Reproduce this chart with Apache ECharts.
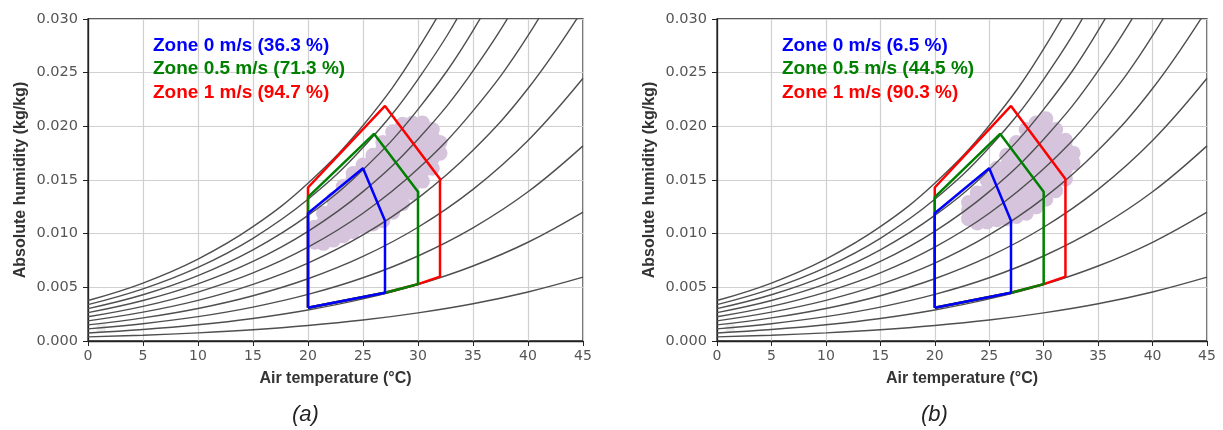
<!DOCTYPE html>
<html>
<head>
<meta charset="utf-8">
<script src="https://cdn.jsdelivr.net/npm/echarts@6/dist/echarts.min.js"></script>
<style>
  html, body { margin: 0; padding: 0; background: #fff; }
  #main { width: 1223px; height: 430px; }
</style>
</head>
<body>
<div id="main"></div>
<script>
// air temperature (°C) at which the RH curves are sampled
const temps = [0, 5, 10, 15, 20, 25, 30, 35, 40, 45]
// absolute humidity (kg/kg) along each relative humidity line
const rh10 = [0.00038, 0.00054, 0.00076, 0.00105, 0.00144, 0.00195, 0.00262, 0.00347, 0.00457, 0.00595]
const rh20 = [0.00075, 0.00107, 0.00151, 0.00210, 0.00289, 0.00392, 0.00526, 0.00699, 0.00920, 0.01201]
const rh30 = [0.00113, 0.00161, 0.00227, 0.00316, 0.00434, 0.00589, 0.00792, 0.01054, 0.01390, 0.01818]
const rh40 = [0.00150, 0.00215, 0.00303, 0.00422, 0.00580, 0.00788, 0.01060, 0.01413, 0.01868, 0.02448]
const rh50 = [0.00188, 0.00269, 0.00379, 0.00528, 0.00726, 0.00988, 0.01331, 0.01777, 0.02352, 0.03091]
const rh60 = [0.00226, 0.00323, 0.00456, 0.00634, 0.00874, 0.01190, 0.01604, 0.02144, 0.02844, 0.03746]
const rh70 = [0.00264, 0.00377, 0.00532, 0.00741, 0.01022, 0.01392, 0.01880, 0.02516, 0.03344, 0.04415]
const rh80 = [0.00302, 0.00431, 0.00609, 0.00849, 0.01170, 0.01596, 0.02158, 0.02892, 0.03851, 0.05097]
const rh90 = [0.00339, 0.00486, 0.00686, 0.00957, 0.01320, 0.01802, 0.02438, 0.03273, 0.04366, 0.05794]
const rh100 = [0.00377, 0.00540, 0.00763, 0.01065, 0.01470, 0.02008, 0.02721, 0.03658, 0.04889, 0.06505]
const rhCurves = [rh10, rh20, rh30, rh40, rh50, rh60, rh70, rh80, rh90, rh100]

// comfort zones [temp, humidity]
const zone0 = [[20, 0.0031], [27, 0.0045], [27, 0.0112], [25, 0.0161], [20, 0.0119], [20, 0.0031]]
const zone05 = [[20, 0.0031], [27, 0.0045], [30, 0.0053], [30, 0.0139], [26, 0.0193], [20, 0.0134], [20, 0.0031]]
const zone1 = [[20, 0.0031], [27, 0.0045], [30, 0.0053], [32, 0.0060], [32, 0.0151], [27, 0.0219], [20, 0.0143], [20, 0.0031]]

const zoneNamesA = ['Zone 0 m/s (36.3 %)', 'Zone 0.5 m/s (71.3 %)', 'Zone 1 m/s (94.7 %)']
const zoneNamesB = ['Zone 0 m/s (6.5 %)', 'Zone 0.5 m/s (44.5 %)', 'Zone 1 m/s (90.3 %)']
const captions = ['(a)', '(b)']

// measured indoor conditions, case (a)
const cloudA = [
    [20.6, 0.0092], [20.6, 0.0100], [20.6, 0.0106],
    [21.4, 0.0091], [21.4, 0.0100], [21.4, 0.0110], [21.4, 0.0119],
    [22.3, 0.0094], [22.3, 0.0103], [22.3, 0.0113], [22.3, 0.0123], [22.3, 0.0132],
    [23.2, 0.0098], [23.2, 0.0106], [23.2, 0.0116], [23.2, 0.0126], [23.2, 0.0136], [23.2, 0.0144],
    [24.1, 0.0102], [24.1, 0.0111], [24.1, 0.0121], [24.1, 0.0131], [24.1, 0.0141], [24.1, 0.0151], [24.1, 0.0156],
    [25.0, 0.0106], [25.0, 0.0116], [25.0, 0.0126], [25.0, 0.0136], [25.0, 0.0146], [25.0, 0.0156], [25.0, 0.0164],
    [25.9, 0.0109], [25.9, 0.0117], [25.9, 0.0127], [25.9, 0.0137], [25.9, 0.0147], [25.9, 0.0157], [25.9, 0.0167], [25.9, 0.0173],
    [26.8, 0.0112], [26.8, 0.0121], [26.8, 0.0131], [26.8, 0.0141], [26.8, 0.0151], [26.8, 0.0161], [26.8, 0.0171], [26.8, 0.0179], [26.8, 0.0185],
    [27.7, 0.0120], [27.7, 0.0129], [27.7, 0.0139], [27.7, 0.0149], [27.7, 0.0159], [27.7, 0.0169], [27.7, 0.0179], [27.7, 0.0188], [27.7, 0.0195],
    [28.6, 0.0128], [28.6, 0.0137], [28.6, 0.0147], [28.6, 0.0157], [28.6, 0.0167], [28.6, 0.0177], [28.6, 0.0187], [28.6, 0.0196], [28.6, 0.0202],
    [29.5, 0.0138], [29.5, 0.0147], [29.5, 0.0157], [29.5, 0.0167], [29.5, 0.0177], [29.5, 0.0187], [29.5, 0.0197], [29.5, 0.0203],
    [30.4, 0.0149], [30.4, 0.0158], [30.4, 0.0168], [30.4, 0.0178], [30.4, 0.0188], [30.4, 0.0198], [30.4, 0.0203],
    [31.3, 0.0161], [31.3, 0.0170], [31.3, 0.0180], [31.3, 0.0190], [31.3, 0.0197],
    [32.0, 0.0175], [32.0, 0.0185]
]

// measured indoor conditions, case (b)
const cloudB = [
    [23.1, 0.0114], [23.1, 0.0122], [23.1, 0.0129],
    [23.9, 0.0110], [23.9, 0.0118], [23.9, 0.0128], [23.9, 0.0138],
    [24.8, 0.0111], [24.8, 0.0120], [24.8, 0.0130], [24.8, 0.0140], [24.8, 0.0150],
    [25.7, 0.0113], [25.7, 0.0122], [25.7, 0.0132], [25.7, 0.0142], [25.7, 0.0152], [25.7, 0.0161],
    [26.6, 0.0114], [26.6, 0.0123], [26.6, 0.0133], [26.6, 0.0143], [26.6, 0.0153], [26.6, 0.0163], [26.6, 0.0173],
    [27.5, 0.0116], [27.5, 0.0125], [27.5, 0.0135], [27.5, 0.0145], [27.5, 0.0155], [27.5, 0.0165], [27.5, 0.0175], [27.5, 0.0185],
    [28.4, 0.0119], [28.4, 0.0128], [28.4, 0.0138], [28.4, 0.0148], [28.4, 0.0158], [28.4, 0.0168], [28.4, 0.0178], [28.4, 0.0188], [28.4, 0.0197],
    [29.3, 0.0125], [29.3, 0.0134], [29.3, 0.0144], [29.3, 0.0154], [29.3, 0.0164], [29.3, 0.0174], [29.3, 0.0184], [29.3, 0.0194], [29.3, 0.0203],
    [30.2, 0.0132], [30.2, 0.0141], [30.2, 0.0151], [30.2, 0.0161], [30.2, 0.0171], [30.2, 0.0181], [30.2, 0.0191], [30.2, 0.0200], [30.2, 0.0207],
    [31.1, 0.0140], [31.1, 0.0149], [31.1, 0.0159], [31.1, 0.0169], [31.1, 0.0179], [31.1, 0.0189], [31.1, 0.0197],
    [32.0, 0.0151], [32.0, 0.0160], [32.0, 0.0170], [32.0, 0.0180], [32.0, 0.0187],
    [32.7, 0.0166], [32.7, 0.0175]
]

// small grey box left in the corner of both plots
const cornerBox = [[1.2, 0.0012]]

const zoneColors = ['#0000ff', '#008000', '#ff0000']
const labelFont = 'Liberation Sans, Arial, sans-serif'
const tickFont = 'DejaVu Sans, sans-serif'

let chart = echarts.init(document.getElementById('main'))

function makeAxes(i) {
    let x = {
        type: 'value', gridIndex: i, min: 0, max: 45, interval: 5,
        name: 'Air temperature (°C)', nameLocation: 'middle', nameGap: 30,
        nameTextStyle: {fontFamily: labelFont, fontWeight: 'bold', fontSize: 16, color: '#333'},
        axisLine: {show: true, onZero: false, lineStyle: {color: '#222', width: 1.3}},
        axisTick: {show: true, length: 5, lineStyle: {color: '#222'}},
        axisLabel: {fontFamily: tickFont, fontSize: 14, color: '#555', margin: 8, showMinLabel: true, showMaxLabel: true},
        splitLine: {show: true, lineStyle: {color: '#d0d0d0', width: 1.2}}
    }
    let y = {
        type: 'value', gridIndex: i, min: 0, max: 0.03, interval: 0.005,
        name: 'Absolute humidity (kg/kg)', nameLocation: 'middle', nameGap: 59,
        nameTextStyle: {fontFamily: labelFont, fontWeight: 'bold', fontSize: 16, color: '#333'},
        axisLine: {show: true, onZero: false, lineStyle: {color: '#222', width: 1.3}},
        axisTick: {show: true, length: 5, lineStyle: {color: '#222'}},
        axisLabel: {fontFamily: tickFont, fontSize: 14.5, color: '#555', margin: 10,
            formatter: v => v.toFixed(3)},
        splitLine: {show: true, lineStyle: {color: '#d0d0d0', width: 1.2}}
    }
    return [x, y]
}

function makeSeries(i, cloud, names) {
    let list = []
    list.push({
        type: 'scatter', xAxisIndex: i, yAxisIndex: i, z: 1,
        symbolSize: 15, itemStyle: {color: '#d6c4dd', opacity: 1},
        silent: true, data: cloud
    })
    list.push({
        type: 'scatter', xAxisIndex: i, yAxisIndex: i, z: 1,
        symbol: 'rect', symbolSize: 9, itemStyle: {color: '#eeeeee', opacity: 1},
        silent: true, data: cornerBox
    })
    rhCurves.forEach(curve => {
        list.push({
            type: 'line', xAxisIndex: i, yAxisIndex: i, z: 2,
            showSymbol: false, smooth: 0.4, clip: true,
            lineStyle: {color: '#4f4f4f', width: 1.4},
            silent: true,
            data: temps.map((t, k) => [t, curve[k]])
        })
    })
    let zones = [zone1, zone05, zone0]
    let zoneNames = [names[2], names[1], names[0]]
    let colors = [zoneColors[2], zoneColors[1], zoneColors[0]]
    zones.forEach((zone, k) => {
        list.push({
            type: 'line', name: zoneNames[k], xAxisIndex: i, yAxisIndex: i, z: 3 + k,
            showSymbol: false, smooth: false,
            lineStyle: {color: colors[k], width: 2.5},
            itemStyle: {color: colors[k]},
            data: zone
        })
    })
    return list
}

function makeLegend(left, names) {
    return {
        orient: 'vertical', left: left, top: 36, padding: 0,
        icon: 'none', itemWidth: 0, itemHeight: 17, itemGap: 4.5,
        selectedMode: false,
        textStyle: {fontFamily: labelFont, fontWeight: 'bold', fontSize: 19},
        data: names.map((n, k) => ({name: n, textStyle: {color: zoneColors[k]}}))
    }
}

let axesA = makeAxes(0)
let axesB = makeAxes(1)

chart.setOption({
    animation: false,
    backgroundColor: '#fff',
    title: [
        {text: captions[0], left: 287, top: 399,
            textStyle: {fontFamily: labelFont, fontStyle: 'italic', fontWeight: 'normal', fontSize: 22, color: '#222'}},
        {text: captions[1], left: 916, top: 399,
            textStyle: {fontFamily: labelFont, fontStyle: 'italic', fontWeight: 'normal', fontSize: 22, color: '#222'}}
    ],
    legend: [makeLegend(148, zoneNamesA), makeLegend(777, zoneNamesB)],
    grid: [
        {left: 88, top: 19, width: 495, height: 322, show: true, borderColor: '#222', borderWidth: 1.3, backgroundColor: '#fff'},
        {left: 717, top: 19, width: 490, height: 322, show: true, borderColor: '#222', borderWidth: 1.3, backgroundColor: '#fff'}
    ],
    xAxis: [axesA[0], axesB[0]],
    yAxis: [axesA[1], axesB[1]],
    series: makeSeries(0, cloudA, zoneNamesA).concat(makeSeries(1, cloudB, zoneNamesB))
})
</script>
</body>
</html>
